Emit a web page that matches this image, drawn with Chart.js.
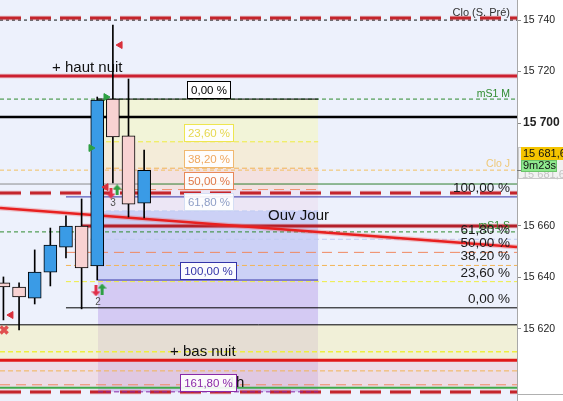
<!DOCTYPE html>
<html><head><meta charset="utf-8">
<script src="https://cdn.jsdelivr.net/npm/chart.js@4/dist/chart.umd.min.js"></script>
<style>html,body{margin:0;padding:0;background:#fff;overflow:hidden}#wrap{width:563px;height:401px;position:relative}</style>
</head><body><div id="wrap"><canvas id="c" width="563" height="401"></canvas></div>
<script>
// ---------- DATA ----------
const candleIndex = [0,1,2,3,4,5,6,7,8,9];
const candleOpen  = [15637.9,15636.3,15632.0,15642.1,15651.8,15660.0,15644.5,15709.3,15695.0,15668.9];
const candleClose = [15636.3,15632.4,15642.1,15652.6,15660.0,15643.7,15708.9,15694.6,15668.5,15681.6];
const candleHigh  = [15640.2,15637.9,15650.7,15659.2,15663.9,15670.5,15710.1,15738.1,15717.1,15689.5];
const candleLow   = [15623.5,15619.6,15629.7,15636.7,15647.6,15627.8,15639.0,15676.7,15663.5,15663.1];

const tickValues = [15620,15640,15660,15700,15720,15740];
const boldTick = 15700;

const levelNames  = ['Clo (S. Pré)','Clo S. pointillé','haut nuit','mS1 M','Pivot','Clo J','Ligne grise','Ligne verte','Rouge 1','Ouv Jour','mS1 S','Bas zone','Jaune nuit','bas nuit','Orange nuit','Saumon nuit','Verte bas','Rouge 2'];
const levelValues = [15740.8,15740.0,15718.3,15709.3,15702.3,15681.7,15676.3,15676.3,15672.8,15660.0,15657.7,15621.6,15611.1,15607.8,15603.7,15598.3,15597.1,15595.5];

const trendValues = [15667.0, 15651.8];

const fibRatios = [0, 23.6, 38.2, 50, 61.8, 100, 161.8];
const fibLabels = ['0,00 %','23,60 %','38,20 %','50,00 %','61,80 %','100,00 %','161,80 %'];
const fib1Zero = 15709.3, fib1Hundred = 15639.0;
const fib2Zero = 15628.2, fib2Hundred = 15671.3;

const markerIdx   = [7.46, 6.56, 5.60, 6.56, 6.88, 7.27, 5.92, 6.31, 0.48, 0.04];
const markerValue = [15730.3, 15710.1, 15690.3, 15675.1, 15672.8, 15674.0, 15634.8, 15635.5, 15625.4, 15619.6];
const markerKind  = ['left','right','right','left','down','up','down','up','left','cross'];

// ---------- LAYOUT / STYLE ----------
const FONT = '"Liberation Sans", Arial, sans-serif';
const xMin = -0.22, xMax = 32.85;
const fib1X = [6.05, 20.13];
const fib2X = [4.0, xMax];

const levelStyle = {
  'Clo (S. Pré)':   {c:'#C4252C', w:3, d:[21,9], from:xMin, to:xMax, halo:true},
  'Clo S. pointillé':{c:'#111', w:1, d:[3,3], from:xMin, to:xMax},
  'haut nuit':      {c:'#CC2030', w:3, d:[], from:xMin, to:xMax, halo:true},
  'mS1 M':          {c:'#2E8B2E', w:1, d:[4,3], from:xMin, to:xMax},
  'Pivot':          {c:'#000', w:2.5, d:[], from:xMin, to:xMax},
  'Clo J':          {c:'#F2C060', w:1, d:[4,3], from:xMin, to:xMax},
  'Ligne grise':    {c:'#8C8C8C', w:1, d:[], from:xMin, to:8.74},
  'Ligne verte':    {c:'#2F7F2F', w:1, d:[], from:9.06, to:xMax},
  'Rouge 1':        {c:'#C4252C', w:3, d:[21,9], from:xMin, to:xMax, halo:true},
  'Ouv Jour':       {c:'#B3202A', w:3, d:[], from:5.03, to:xMax, halo:true},
  'mS1 S':          {c:'#2E8B2E', w:1, d:[4,3], from:xMin, to:xMax},
  'Bas zone':       {c:'#000', w:1, d:[], from:xMin, to:xMax},
  'Jaune nuit':     {c:'#EEEE40', w:1.5, d:[5,3], from:xMin, to:xMax},
  'bas nuit':       {c:'#E01818', w:3, d:[], from:xMin, to:xMax},
  'Orange nuit':    {c:'#F2B455', w:1, d:[5,3], from:xMin, to:xMax},
  'Saumon nuit':    {c:'#F08860', w:1, d:[10,6], from:xMin, to:xMax},
  'Verte bas':      {c:'#3FA84A', w:2, d:[], from:xMin, to:xMax},
  'Rouge 2':        {c:'#C4252C', w:3, d:[21,9], from:xMin, to:xMax, halo:true}
};
const fib1LineStyle = [
  {c:'#000', d:[]},{c:'#F0EC40', d:[5,3]},{c:'#F2B455', d:[5,3]},{c:'#F09070', d:[10,6]},
  {c:'#C0CCF2', d:[5,3]},{c:'#3434A8', d:[]},{c:'#8A2AA8', d:[5,3]}
];
const fib1Box = [
  {b:'#000', t:'#000'},{b:'#EEE650', t:'#E6D850'},{b:'#F0B870', t:'#EFA860'},{b:'#E88858', t:'#E07848'},
  {b:'#D4DEF4', t:'#8E9EC6'},{b:'#3434A8', t:'#3434A8'},{b:'#8A2AA8', t:'#8A2AA8'}
];
const fib1Zone = ['rgba(245,245,185,0.55)','rgba(250,232,188,0.55)','rgba(248,212,200,0.55)','rgba(235,215,235,0.4)','rgba(165,170,240,0.45)','rgba(175,145,230,0.4)'];
const fib2LineStyle = [
  {c:'#000', d:[]},{c:'#EEEE40', d:[5,3]},{c:'#F2B455', d:[5,3]},{c:'#F08860', d:[10,6]},
  {c:'#C0CCF2', d:[5,3]},{c:'#3434A8', d:[]}
];

const fibVal = (z,h,r) => z + (h - z) * r / 100;
const lv = name => levelValues[levelNames.indexOf(name)];

function fmt(v, dec) {
  let s = dec ? v.toFixed(dec) : String(Math.round(v));
  let parts = s.split('.');
  let i = parts[0].replace(/\B(?=(\d{3})+(?!\d))/g, ' ');
  return parts[1] ? i + ',' + parts[1] : i;
}

// ---------- DATASETS ----------
const datasets = [];
function zone(x0, x1, top, bottom, color) {
  datasets.push({type:'line', data:[{x:x0,y:top},{x:x1,y:top}], fill:{value:bottom},
    backgroundColor:color, borderColor:'rgba(0,0,0,0)', borderWidth:0, pointRadius:0, order:100});
}
function seg(x0, x1, v0, v1, color, width, dash, order) {
  datasets.push({type:'line', data:[{x:x0,y:v0},{x:x1,y:v1}], borderColor:color, borderWidth:width,
    borderDash:dash||[], pointRadius:0, fill:false, order:order, borderCapStyle:'butt', tension:0});
}
zone(xMin, xMax, lv('Bas zone'), lv('bas nuit'), 'rgba(245,240,180,0.5)');
zone(xMin, xMax, lv('bas nuit'), lv('Verte bas'), 'rgba(240,198,205,0.45)');
for (let k = 0; k < fibRatios.length - 1; k++) {
  zone(fib1X[0], fib1X[1], fibVal(fib1Zero,fib1Hundred,fibRatios[k]), fibVal(fib1Zero,fib1Hundred,fibRatios[k+1]), fib1Zone[k]);
}
levelNames.forEach((n, k) => {
  const s = levelStyle[n];
  if (s.halo) seg(s.from, s.to, levelValues[k], levelValues[k], 'rgba(225,90,90,0.22)', s.w + 2, s.d, 61);
  seg(s.from, s.to, levelValues[k], levelValues[k], s.c, s.w, s.d, 60);
});
for (let k = 0; k < fib2LineStyle.length; k++) {
  const v = fibVal(fib2Zero, fib2Hundred, fibRatios[k]);
  seg(fib2X[0], fib2X[1], v, v, fib2LineStyle[k].c, 1, fib2LineStyle[k].d, 55);
}
for (let k = 0; k < fib1LineStyle.length; k++) {
  const v = fibVal(fib1Zero, fib1Hundred, fibRatios[k]);
  seg(fib1X[0], fib1X[1], v, v, fib1LineStyle[k].c, 1, fib1LineStyle[k].d, 54);
}
seg(xMin, xMax, trendValues[0], trendValues[1], 'rgba(235,90,90,0.3)', 5, [], 41);
seg(xMin, xMax, trendValues[0], trendValues[1], '#E82020', 2.5, [], 40);

datasets.push({type:'bar', data: candleIndex.map((i,k)=>({x:i, y:[candleLow[k], candleHigh[k]]})),
  backgroundColor:'#000', borderWidth:0, barThickness:1, grouped:false, order:10});
datasets.push({type:'bar', data: candleIndex.map((i,k)=>({x:i, y:[candleOpen[k], candleClose[k]]})),
  backgroundColor: candleIndex.map((i,k)=> candleClose[k] >= candleOpen[k] ? '#3A9BE6' : '#F8D2D2'),
  borderColor:'#000', borderWidth:1, borderSkipped:false, barThickness:13, grouped:false, order:5});

function arrowCanvas(color, up) {
  const c = document.createElement('canvas'); c.width = 9; c.height = 11;
  const g = c.getContext('2d'); g.fillStyle = color; g.beginPath();
  if (up) { g.moveTo(4.5,0); g.lineTo(9,5); g.lineTo(6,5); g.lineTo(6,11); g.lineTo(3,11); g.lineTo(3,5); g.lineTo(0,5); }
  else { g.moveTo(4.5,11); g.lineTo(9,6); g.lineTo(6,6); g.lineTo(6,0); g.lineTo(3,0); g.lineTo(3,6); g.lineTo(0,6); }
  g.closePath(); g.fill(); return c;
}
const upArrow = arrowCanvas('#2EA043', true), downArrow = arrowCanvas('#E0304A', false);
const mStyle = {
  left:  {ps:'triangle', rot:270, col:'#D8303C', r:4, bw:1},
  right: {ps:'triangle', rot:90, col:'#2EA043', r:4, bw:1},
  up:    {ps:upArrow, rot:0, col:'#2EA043', r:5, bw:1},
  down:  {ps:downArrow, rot:0, col:'#E0304A', r:5, bw:1},
  cross: {ps:'crossRot', rot:0, col:'#E05050', r:5, bw:3.5}
};
datasets.push({type:'line', showLine:false, order:1, clip:false,
  data: markerIdx.map((x,k)=>({x:x, y:markerValue[k]})),
  pointStyle: markerKind.map(k=>mStyle[k].ps),
  rotation: markerKind.map(k=>mStyle[k].rot),
  pointRadius: markerKind.map(k=>mStyle[k].r),
  pointBackgroundColor: markerKind.map(k=>mStyle[k].col),
  pointBorderColor: markerKind.map(k=>mStyle[k].col),
  pointBorderWidth: markerKind.map(k=>mStyle[k].bw)
});

// ---------- PLUGINS ----------
const bgPlugin = {id:'bg', beforeDraw(chart){
  const {ctx, chartArea:a} = chart; ctx.save();
  ctx.fillStyle = '#fff'; ctx.fillRect(0,0,chart.width,chart.height);
  ctx.fillStyle = '#EDF1FC'; ctx.fillRect(a.left, a.top, a.right-a.left, a.bottom-a.top);
  ctx.restore();
}};

const textAnn = [
  {t:'+ haut nuit', x:3.11, lvl:'haut nuit', dy:-4, size:15, color:'#111', align:'left'},
  {t:'Ouv Jour', x:16.93, lvl:'Ouv Jour', dy:-6, size:15, color:'#111', align:'left'},
  {t:'+ bas nuit', x:10.66, lvl:'bas nuit', dy:-4.5, size:15, color:'#111', align:'left'},
  {t:'1h', x:14.35, lvl:'Verte bas', dy:-1, size:15, color:'#111', align:'left'}
];
const rightAnn = [
  {t:'Clo (S. Pré)', lvl:'Clo (S. Pré)', dy:-2, size:11, color:'#333'},
  {t:'mS1 M', lvl:'mS1 M', dy:-2, size:10.5, color:'#2E8B2E'},
  {t:'Clo J', lvl:'Clo J', dy:-3, size:10.5, color:'#EEC878'},
  {t:'mS1 S', lvl:'mS1 S', dy:-3, size:10.5, color:'#2E8B2E'}
];
const countAnn = [{t:'3', x:7.01, v:15668.9}, {t:'2', x:6.05, v:15630.5}];

const annPlugin = {id:'ann', afterDraw(chart){
  const {ctx, chartArea:a, scales:{x, y}} = chart;
  ctx.save();
  ctx.textBaseline = 'alphabetic';
  rightAnn.forEach(r => {
    ctx.font = r.size + 'px ' + FONT; ctx.fillStyle = r.color; ctx.textAlign = 'right';
    ctx.fillText(r.t, a.right - 7, y.getPixelForValue(lv(r.lvl)) + r.dy);
  });
  textAnn.forEach(r => {
    ctx.font = r.size + 'px ' + FONT; ctx.fillStyle = r.color; ctx.textAlign = r.align;
    ctx.fillText(r.t, x.getPixelForValue(r.x), y.getPixelForValue(lv(r.lvl)) + r.dy);
  });
  ctx.font = '10px ' + FONT; ctx.fillStyle = '#505050'; ctx.textAlign = 'center'; ctx.textBaseline = 'middle';
  countAnn.forEach(c => ctx.fillText(c.t, x.getPixelForValue(c.x), y.getPixelForValue(c.v)));
  ctx.textBaseline = 'alphabetic'; ctx.textAlign = 'right'; ctx.font = '13.5px ' + FONT; ctx.fillStyle = '#1a1a1a';
  for (let k = 0; k < fib2LineStyle.length; k++) {
    ctx.fillText(fibLabels[k], a.right - 7, y.getPixelForValue(fibVal(fib2Zero, fib2Hundred, fibRatios[k])) - 5);
  }
  const cx = (x.getPixelForValue(fib1X[0]) + x.getPixelForValue(fib1X[1])) / 2;
  ctx.font = '11.5px ' + FONT;
  for (let k = 0; k < fibRatios.length; k++) {
    const py = y.getPixelForValue(fibVal(fib1Zero, fib1Hundred, fibRatios[k]));
    const w = Math.round(ctx.measureText(fibLabels[k]).width + 7), h = 17;
    const bx = Math.round(cx - w/2) + 0.5, by = Math.round(py - 1 - h) + 0.5;
    ctx.fillStyle = 'rgba(255,255,255,0.9)'; ctx.fillRect(bx, by, w, h);
    ctx.strokeStyle = fib1Box[k].b; ctx.lineWidth = 1; ctx.strokeRect(bx, by, w, h);
    ctx.fillStyle = fib1Box[k].t; ctx.textAlign = 'center'; ctx.textBaseline = 'middle';
    ctx.fillText(fibLabels[k], bx + w/2, by + h/2 + 1);
  }
  const last = candleClose[candleClose.length - 1];
  const py = Math.round(y.getPixelForValue(last));
  ctx.textAlign = 'left'; ctx.textBaseline = 'middle'; ctx.font = '11px ' + FONT;
  ctx.fillStyle = '#F2F2F2'; ctx.fillRect(518, py - 23, 45, 32);
  ctx.strokeStyle = '#C8C8C8'; ctx.strokeRect(518.5, py - 22.5, 45, 31);
  ctx.fillStyle = '#C4C4C4'; ctx.fillText(fmt(last, 1), 522, py + 5);
  ctx.fillStyle = '#F5C400'; ctx.fillRect(521, py - 23, 42, 13);
  ctx.fillStyle = '#111'; ctx.fillText(fmt(last, 1), 523, py - 16);
  ctx.fillStyle = '#8EE88E'; ctx.fillRect(521, py - 10, 36, 12);
  ctx.strokeStyle = '#6CC46C'; ctx.strokeRect(521.5, py - 9.5, 35, 11);
  ctx.fillStyle = '#111'; ctx.fillText('9m23s', 523, py - 4);
  ctx.strokeStyle = '#777'; ctx.beginPath(); ctx.moveTo(517, py + 0.5); ctx.lineTo(521, py + 0.5); ctx.stroke();
  ctx.strokeStyle = '#B0B0B0'; ctx.beginPath(); ctx.moveTo(517, 394.5); ctx.lineTo(563, 394.5); ctx.stroke();
  ctx.restore();
}};

// ---------- CHART ----------
new Chart(document.getElementById('c'), {
  type: 'bar',
  data: { datasets },
  options: {
    responsive: false, animation: false, devicePixelRatio: 1,
    layout: { padding: 0, autoPadding: false },
    plugins: { legend: {display:false}, tooltip: {enabled:false} },
    scales: {
      x: { type:'linear', display:false, min:xMin, max:xMax, offset:false },
      y: { type:'linear', position:'right', min:15592.0, max:15747.8,
        afterFit: s => { s.width = 46; s.paddingTop = 0; s.paddingBottom = 0; },
        afterBuildTicks: s => { s.ticks = tickValues.map(v => ({value:v})); },
        grid: { display:true, drawOnChartArea:false, drawTicks:true, tickLength:4, color:'#888' },
        border: { display:true, color:'#A8A8A8' },
        ticks: { padding:2, color:'#222',
          font: c => (c.tick && c.tick.value === boldTick) ? {family:FONT, size:12, weight:'bold'} : {family:FONT, size:10.5},
          callback: v => fmt(v) }
      }
    }
  },
  plugins: [bgPlugin, annPlugin]
});
</script></body></html>
